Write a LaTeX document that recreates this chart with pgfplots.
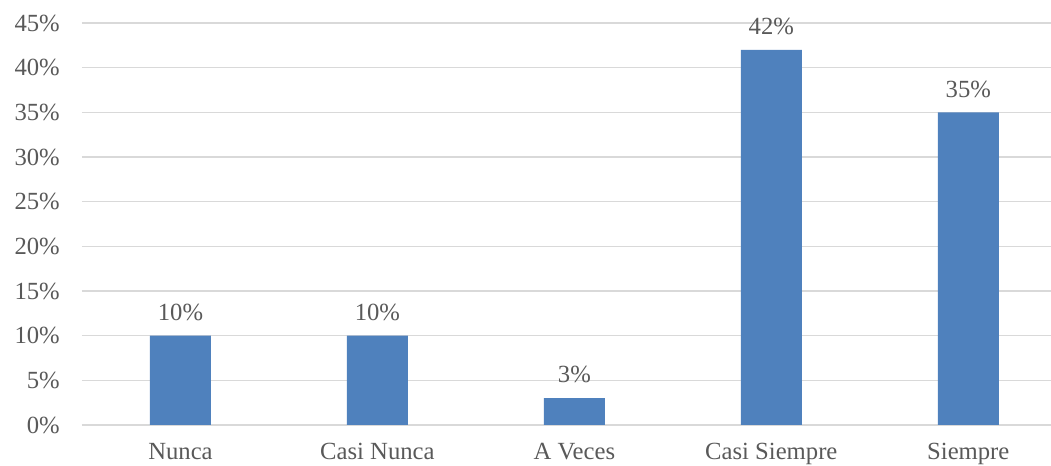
\documentclass[border=0pt]{standalone}
\usepackage{pgfplots}
\pgfplotsset{compat=1.18}
\usepackage{fontspec}
\setmainfont{Liberation Serif}
\definecolor{barblue}{HTML}{4F81BD}
\definecolor{txtgray}{HTML}{595959}
\definecolor{gridgray}{HTML}{D9D9D9}
\begin{document}
\begin{tikzpicture}
\begin{axis}[
  scale only axis,
  width=726.75pt, height=301.5pt,
  xmin=-0.5, xmax=4.42,
  ymin=0, ymax=45,
  ytick={0,5,...,45},
  yticklabel={\pgfmathprintnumber{\tick}\%},
  xtick={0,1,2,3,4},
  xticklabels={Nunca,Casi Nunca,A Veces,Casi Siempre,Siempre},
  axis line style={draw=none},
  major tick length=0pt,
  ymajorgrids,
  grid style={gridgray, line width=1.1pt},
  /pgf/number format/assume math mode=true,
  ticklabel style={font=\fontsize{18.5}{21}\selectfont, text=txtgray},
  yticklabel style={anchor=east, inner sep=0pt, xshift=-16.5pt},
  xticklabel style={anchor=north, inner sep=0pt, yshift=-13.5pt},
  clip=false,
]
\addplot[ybar, bar width=45.75pt, fill=barblue, draw=none,
  nodes near coords={\pgfmathprintnumber{\pgfplotspointmeta}\%},
  nodes near coords style={font=\fontsize{18.5}{21}\selectfont, text=txtgray, anchor=south, inner sep=0pt, yshift=11pt},
  point meta=explicit]
  coordinates {(0,10) [10] (1,10) [10] (2,3) [3] (3,42) [42] (4,35) [35]};
\end{axis}
\pgfresetboundingbox
\path[use as bounding box] ([xshift=-61.5pt,yshift=-30.75pt]current axis.south west) rectangle ([yshift=17.25pt]current axis.north east);
\end{tikzpicture}
\end{document}
